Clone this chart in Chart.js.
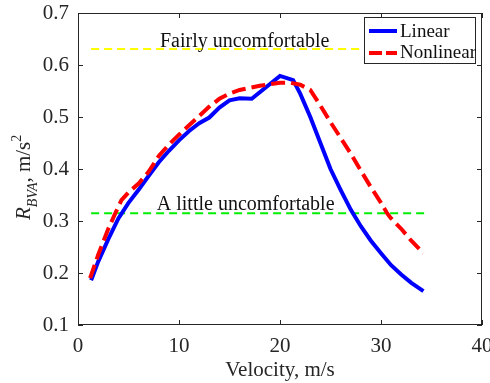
<!DOCTYPE html>
<html>
<head>
<meta charset="utf-8">
<script src="https://cdn.jsdelivr.net/npm/chart.js@4.4.1/dist/chart.umd.min.js"></script>
<style>
  html, body { margin: 0; padding: 0; background: #fff; }
</style>
</head>
<body>
<canvas id="chart" width="490" height="383"></canvas>
<script>
// velocity (m/s) and response values
const linearV = [1.3, 2, 3, 4, 5, 6, 7, 8, 9, 10, 11, 12, 13, 14, 15, 16, 17.2, 20, 21.3, 22, 23, 24, 25, 26, 27, 28, 29, 30, 31, 32, 33, 34.2];
const linearR = [0.186, 0.222, 0.265, 0.305, 0.335, 0.36, 0.387, 0.413, 0.435, 0.455, 0.473, 0.488, 0.499, 0.518, 0.532, 0.536, 0.535, 0.579, 0.571, 0.545, 0.5, 0.45, 0.4, 0.36, 0.322, 0.29, 0.262, 0.238, 0.215, 0.197, 0.181, 0.165];

const nonlinearV = [1.2, 2, 3, 3.7, 4.3, 5, 6, 7, 8, 9, 10, 11, 12, 13, 14, 15, 16, 17, 18, 19, 20, 21, 22, 23, 24, 25, 26, 27, 28, 29, 30, 30.6, 31, 32, 33, 34.2];
const nonlinearR = [0.19, 0.235, 0.285, 0.315, 0.34, 0.355, 0.372, 0.395, 0.425, 0.447, 0.466, 0.484, 0.502, 0.52, 0.535, 0.545, 0.552, 0.556, 0.56, 0.563, 0.566, 0.566, 0.562, 0.552, 0.522, 0.49, 0.46, 0.43, 0.397, 0.365, 0.335, 0.315, 0.305, 0.285, 0.262, 0.238];

// comfort thresholds
const levelV = [1.3, 34.3];
const fairlyLevel = 0.631;
const littleLevel = 0.315;
const fairlyText = "Fairly uncomfortable";
const littleText = "A little uncomfortable";

const xTicks = [0, 10, 20, 30, 40];
const yTicks = [0.1, 0.2, 0.3, 0.4, 0.5, 0.6, 0.7];
const seriesNames = ["Linear", "Nonlinear"];

const SERIF = "'Liberation Serif', 'Times New Roman', serif";
const INK = "#262626";

function toPoints(xs, ys) {
  return xs.map((x, i) => ({ x: x, y: ys[i] }));
}

// labels, frame with inward ticks, legend box
const decorations = {
  id: "decorations",
  afterDatasetsDraw(chart) {
    const ctx = chart.ctx;
    const area = chart.chartArea;
    const xs = chart.scales.x;
    const ys = chart.scales.y;

    ctx.save();
    ctx.fillStyle = "#111";
    ctx.font = "20px " + SERIF;
    ctx.textAlign = "center";
    ctx.textBaseline = "alphabetic";
    ctx.fillText(fairlyText, xs.getPixelForValue(16.5), ys.getPixelForValue(fairlyLevel) - 2);
    ctx.fillText(littleText, xs.getPixelForValue(16.6), ys.getPixelForValue(littleLevel) - 3);

    // box
    ctx.strokeStyle = INK;
    ctx.lineWidth = 1;
    ctx.strokeRect(area.left + 0.5, area.top + 0.5, area.right - area.left - 1, area.bottom - area.top - 1);

    // inward ticks
    ctx.beginPath();
    xTicks.forEach((v) => {
      const px = Math.round(xs.getPixelForValue(v)) + 0.5;
      ctx.moveTo(px, area.bottom);
      ctx.lineTo(px, area.bottom - 5);
      ctx.moveTo(px, area.top);
      ctx.lineTo(px, area.top + 5);
    });
    yTicks.forEach((v) => {
      const py = Math.round(ys.getPixelForValue(v)) + 0.5;
      ctx.moveTo(area.left, py);
      ctx.lineTo(area.left + 5, py);
      ctx.moveTo(area.right, py);
      ctx.lineTo(area.right - 5, py);
    });
    ctx.stroke();

    // legend
    const lx = area.right - 118;
    const ly = area.top + 4;
    ctx.fillStyle = "#fff";
    ctx.fillRect(lx, ly, 111, 46);
    ctx.strokeStyle = INK;
    ctx.strokeRect(lx + 0.5, ly + 0.5, 111, 46);

    ctx.lineWidth = 4;
    ctx.strokeStyle = "#0000ff";
    ctx.beginPath();
    ctx.moveTo(lx + 5, ly + 14);
    ctx.lineTo(lx + 33, ly + 14);
    ctx.stroke();

    ctx.strokeStyle = "#ff0000";
    ctx.setLineDash([13, 4]);
    ctx.beginPath();
    ctx.moveTo(lx + 5, ly + 36);
    ctx.lineTo(lx + 33, ly + 36);
    ctx.stroke();
    ctx.setLineDash([]);

    ctx.fillStyle = "#111";
    ctx.font = "19px " + SERIF;
    ctx.textAlign = "left";
    ctx.fillText(seriesNames[0], lx + 36, ly + 20);
    ctx.fillText(seriesNames[1], lx + 36, ly + 41);
    ctx.restore();
  },
  afterDraw(chart) {
    // y axis title with sub/superscript: R_BVA, m/s^2
    const ctx = chart.ctx;
    ctx.save();
    ctx.translate(30, 220);
    ctx.rotate(-Math.PI / 2);
    ctx.fillStyle = INK;
    ctx.textBaseline = "alphabetic";
    ctx.textAlign = "left";
    let pos = 0;
    const parts = [
      { t: "R", font: "italic 21px " + SERIF, dy: 0 },
      { t: "BVA", font: "italic 14px " + SERIF, dy: 7 },
      { t: ", m/s", font: "21px " + SERIF, dy: 0 },
      { t: "2", font: "14px " + SERIF, dy: -9 },
    ];
    parts.forEach((p) => {
      ctx.font = p.font;
      ctx.fillText(p.t, pos, p.dy);
      pos += ctx.measureText(p.t).width;
    });
    ctx.restore();
  },
};

new Chart(document.getElementById("chart"), {
  type: "scatter",
  data: {
    datasets: [
      {
        label: seriesNames[1],
        data: toPoints(nonlinearV, nonlinearR),
        showLine: true,
        borderColor: "#ff0000",
        borderWidth: 4,
        borderDash: [14, 6],
        pointRadius: 0,
        order: 0,
      },
      {
        label: seriesNames[0],
        data: toPoints(linearV, linearR),
        showLine: true,
        borderColor: "#0000ff",
        borderWidth: 4,
        pointRadius: 0,
        order: 1,
      },
      {
        label: "fairly",
        data: toPoints(levelV, [fairlyLevel, fairlyLevel]),
        showLine: true,
        borderColor: "#ffff00",
        borderWidth: 2,
        borderDash: [8, 5],
        pointRadius: 0,
        order: 2,
      },
      {
        label: "little",
        data: toPoints(levelV, [littleLevel, littleLevel]),
        showLine: true,
        borderColor: "#00ee00",
        borderWidth: 2,
        borderDash: [8, 5],
        pointRadius: 0,
        order: 3,
      },
    ],
  },
  options: {
    responsive: false,
    animation: false,
    layout: { padding: { top: 13, right: 8, left: 0, bottom: 0 } },
    plugins: {
      legend: { display: false },
      tooltip: { enabled: false },
    },
    scales: {
      x: {
        type: "linear",
        min: 0,
        max: 40,
        afterBuildTicks: (s) => { s.ticks = xTicks.map((v) => ({ value: v })); },
        afterFit: (s) => { s.height = 58; s.paddingLeft = 0; s.paddingRight = 0; },
        ticks: { padding: 9, color: INK, font: { family: SERIF, size: 21 } },
        grid: { display: false, drawTicks: false },
        border: { display: false },
        title: {
          display: true,
          text: "Velocity, m/s",
          color: INK,
          font: { family: SERIF, size: 21 },
          padding: { top: 0, bottom: 0 },
        },
      },
      y: {
        type: "linear",
        min: 0.1,
        max: 0.7,
        afterBuildTicks: (s) => { s.ticks = yTicks.map((v) => ({ value: v })); },
        afterFit: (s) => { s.width = 78; s.paddingTop = 0; s.paddingBottom = 0; },
        ticks: {
          padding: 9,
          color: INK,
          font: { family: SERIF, size: 21 },
          callback: (v) => Number(v).toFixed(1),
        },
        grid: { display: false, drawTicks: false },
        border: { display: false },
      },
    },
  },
  plugins: [decorations],
});
</script>
</body>
</html>
